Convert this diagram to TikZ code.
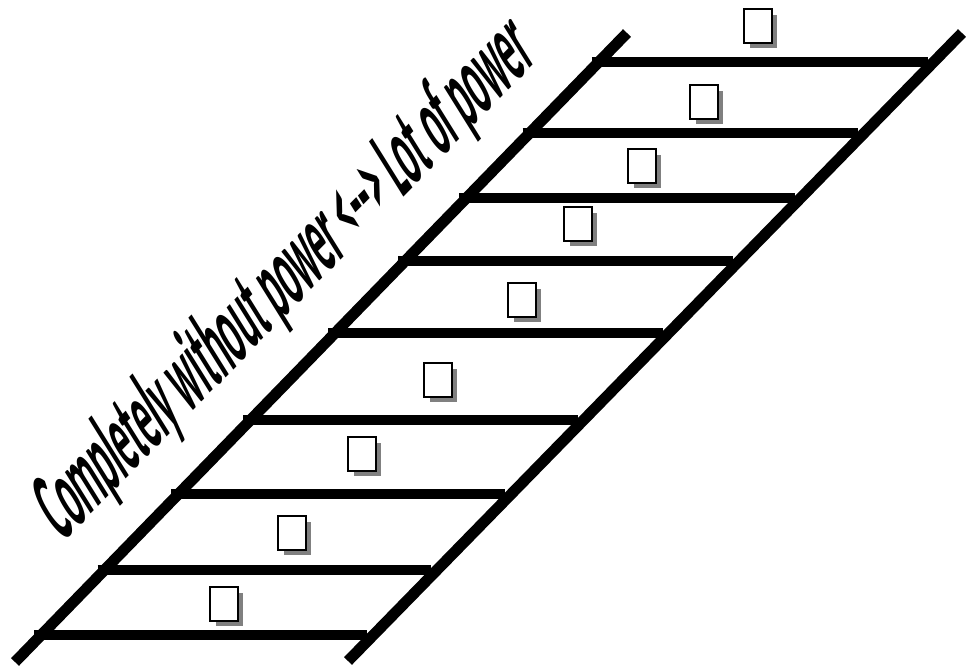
\documentclass[tikz,border=0pt]{standalone}
\usepackage{fontspec}
\setmainfont{Carlito}
\usetikzlibrary{shadows}

\begin{document}
\begin{tikzpicture}[
  x=0.02cm,
  y=-0.02cm,
  every node/.style={inner sep=0pt, outer sep=0pt},
  rail/.style={line width=0.22cm, line cap=butt},
  rung/.style={line width=0.2cm},
  tickbox/.style={draw, fill=white, line width=1.7pt, minimum width=0.56cm, minimum height=0.68cm,
    drop shadow={shadow xshift=0.11cm, shadow yshift=-0.11cm, fill=black!50, opacity=1}},
  scalelabel/.style={font=\bfseries\fontsize{57}{60}\selectfont, anchor=base}
]

  \path[use as bounding box] (0,0) rectangle (975,666);

  % Ladder rails
  \coordinate (lb) at (15,662);
  \coordinate (lt) at (627,33);
  \coordinate (rb) at (348,661);
  \coordinate (rt) at (962,33);
  \draw[rail] (lb) -- (lt);
  \draw[rail] (rb) -- (rt);

  % Rungs
  \foreach \ry in {635,570,494,420,333,261,198,133,62} {
    \pgfmathsetmacro{\xl}{15+(662-\ry)*0.973-7}
    \pgfmathsetmacro{\xr}{348+(661-\ry)*0.978-6}
    \draw[rung] (\xl,\ry) -- (\xr,\ry);
  }

  % Boxes
  \foreach \bx/\by [count=\i] in {224/604, 292/533, 362/454, 438/380, 522/300, 578/224, 642/166, 704/102, 758/26}
    \node[tickbox] (box\i) at (\bx,\by) {};

  % Scale label
  \node[scalelabel, cm={0.257,0.261,-0.53,0.85,(0,0)}] (scale) at (300,302)
    {Completely without power <-{}-> Lot of power};

\end{tikzpicture}
\end{document}
